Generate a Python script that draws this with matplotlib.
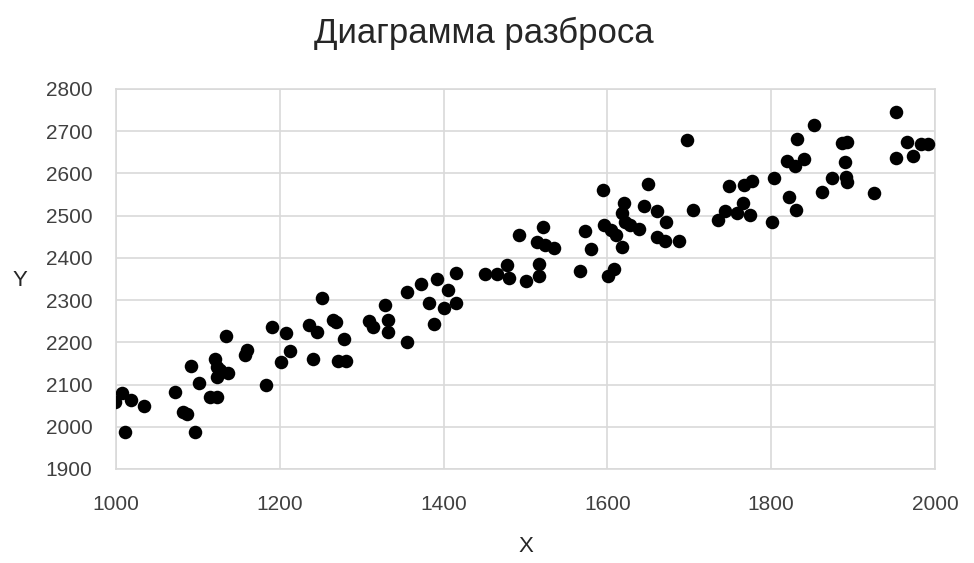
import matplotlib
matplotlib.use('Agg')
import matplotlib.pyplot as plt

plt.rcParams['font.family'] = ['Liberation Sans', 'DejaVu Sans']

# values
x_vals = [999, 1007, 1018, 1034, 1011, 1072, 1082, 1087, 1096, 1092,
          1101, 1115, 1123, 1121, 1123, 1123, 1137, 1127, 1135, 1160,
          1157, 1183, 1191, 1208, 1212, 1202, 1251, 1236, 1246, 1241,
          1265, 1269, 1278, 1271, 1281, 1309, 1314, 1328, 1332, 1332,
          1355, 1355, 1372, 1382, 1388, 1392, 1405, 1401, 1415, 1415,
          1451, 1465, 1478, 1480, 1501, 1492, 1517, 1517, 1521, 1514,
          1524, 1535, 1567, 1573, 1580, 1595, 1596, 1605, 1611, 1618,
          1601, 1608, 1620, 1618, 1621, 1628, 1639, 1645, 1650, 1660,
          1672, 1660, 1670, 1687, 1704, 1697, 1735, 1744, 1749, 1758,
          1765, 1774, 1767, 1776, 1801, 1803, 1819, 1829, 1840, 1831,
          1852, 1822, 1830, 1862, 1874, 1887, 1893, 1890, 1891, 1892,
          1925, 1952, 1952, 1966, 1973, 1983, 1992]
y_vals = [2059, 2081, 2063, 2048, 1987, 2083, 2036, 2030, 1987, 2144,
          2103, 2071, 2071, 2160, 2141, 2119, 2128, 2134, 2216, 2182,
          2170, 2099, 2237, 2221, 2180, 2153, 2304, 2241, 2224, 2160,
          2254, 2249, 2208, 2156, 2156, 2251, 2236, 2288, 2253, 2224,
          2200, 2318, 2337, 2292, 2243, 2349, 2324, 2281, 2294, 2365,
          2361, 2361, 2383, 2353, 2345, 2453, 2386, 2357, 2474, 2438,
          2430, 2424, 2369, 2464, 2421, 2561, 2478, 2466, 2454, 2425,
          2357, 2373, 2531, 2507, 2486, 2478, 2468, 2523, 2575, 2510,
          2486, 2450, 2441, 2441, 2513, 2678, 2490, 2512, 2569, 2506,
          2531, 2502, 2573, 2583, 2486, 2590, 2630, 2618, 2634, 2682,
          2715, 2545, 2513, 2557, 2590, 2671, 2675, 2626, 2591, 2580,
          2554, 2746, 2637, 2674, 2642, 2670, 2670]

x_ticks = [1000, 1200, 1400, 1600, 1800, 2000]
y_ticks = [1900, 2000, 2100, 2200, 2300, 2400, 2500, 2600, 2700, 2800]

W, H = 974, 563
fig = plt.figure(figsize=(W / 100, H / 100), dpi=100)
ax = fig.add_axes([0.119, 0.167, 0.841, 0.675])

ax.scatter(x_vals, y_vals, s=95, color='black', zorder=3, linewidths=0)

ax.set_xlim(1000, 2000)
ax.set_ylim(1900, 2800)
ax.set_xticks(x_ticks)
ax.set_yticks(y_ticks)
ax.grid(True, color='#d9d9d9', linewidth=1.2, zorder=0)
for sp in ax.spines.values():
    sp.set_color('#d9d9d9')
    sp.set_linewidth(1.2)
ax.tick_params(length=0, labelsize=15, labelcolor='#404040')
ax.tick_params(axis='x', pad=19)
ax.tick_params(axis='y', pad=17)

# title and axis names placed in figure pixels
fig.text(484 / W, 1 - 33 / H, 'Диаграмма разброса', fontsize=25,
         color='#262626', ha='center', va='center')
fig.text(526 / W, 1 - 546 / H, 'X', fontsize=16, color='#262626',
         ha='center', va='center')
fig.text(20 / W, 1 - 280 / H, 'Y', fontsize=16, color='#262626',
         ha='center', va='center')

fig.savefig('out.png', dpi=100)
